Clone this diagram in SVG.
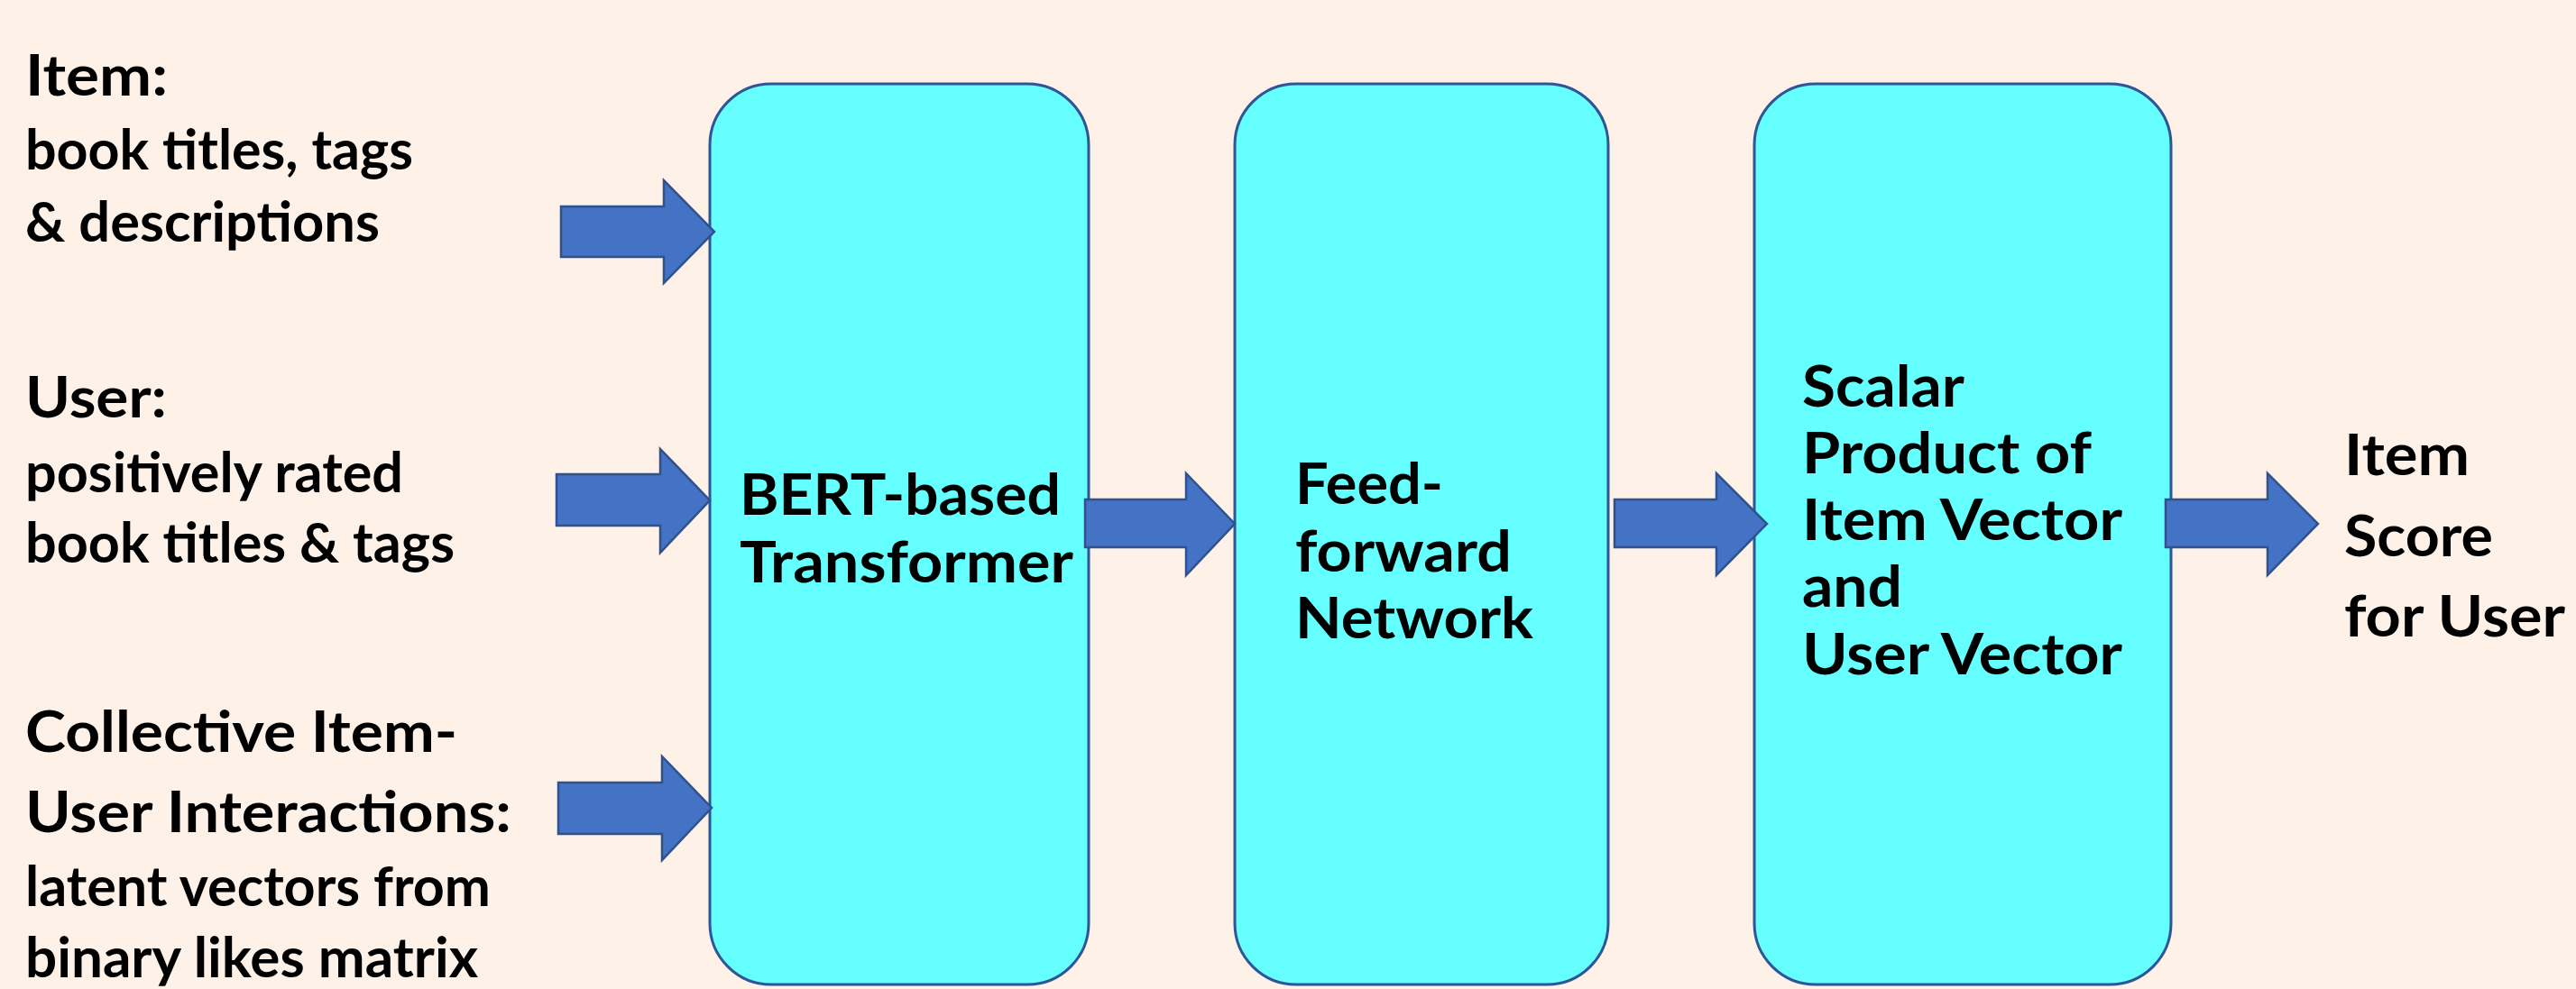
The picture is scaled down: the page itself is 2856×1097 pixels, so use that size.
<svg xmlns="http://www.w3.org/2000/svg" width="2856" height="1097" viewBox="0 0 2856 1097">
<style>
.bg{fill:#FDF1E8}
.box{fill:#66FFFF;stroke:#2F5597;stroke-width:3}
.arr{fill:#4472C4;stroke:#2F528F;stroke-width:2.5;stroke-linejoin:miter}
text{font-family:Lato,"Open Sans","Liberation Sans",sans-serif;font-weight:700;fill:#000}
.h{font-size:63px}
.b{font-size:61px}
.n{font-size:64px}
</style>
<rect class="bg" x="0" y="0" width="2856" height="1097"/>
<g id="inputs">
<g id="item-input">
<text class="h" x="28" y="106" textLength="158" lengthAdjust="spacingAndGlyphs">Item:</text>
<text class="b" x="28" y="188" textLength="430" lengthAdjust="spacingAndGlyphs">book titles, tags</text>
<text class="b" x="28" y="268" textLength="393" lengthAdjust="spacingAndGlyphs">&amp; descriptions</text>
</g>
<g id="user-input">
<text class="h" x="28" y="463" textLength="157" lengthAdjust="spacingAndGlyphs">User:</text>
<text class="b" x="28" y="546" textLength="419" lengthAdjust="spacingAndGlyphs">positively rated</text>
<text class="b" x="28" y="624" textLength="476" lengthAdjust="spacingAndGlyphs">book titles &amp; tags</text>
</g>
<g id="collective-input">
<text class="h" x="28" y="834" textLength="479" lengthAdjust="spacingAndGlyphs">Collective Item-</text>
<text class="h" x="28" y="923" textLength="539" lengthAdjust="spacingAndGlyphs">User Interactions:</text>
<text class="b" x="28" y="1005" textLength="516" lengthAdjust="spacingAndGlyphs">latent vectors from</text>
<text class="b" x="28" y="1084" textLength="502" lengthAdjust="spacingAndGlyphs">binary likes matrix</text>
</g>
</g>
<g id="bert">
<rect class="box" x="787" y="93" width="420" height="999" rx="68" ry="68"/>
<text class="n" x="820" y="571" textLength="356" lengthAdjust="spacingAndGlyphs">BERT-based</text>
<text class="n" x="820" y="646" textLength="370" lengthAdjust="spacingAndGlyphs">Transformer</text>
</g>
<g id="ffn">
<rect class="box" x="1369" y="93" width="414" height="999" rx="68" ry="68"/>
<text class="n" x="1436" y="559" textLength="164" lengthAdjust="spacingAndGlyphs">Feed-</text>
<text class="n" x="1436" y="634" textLength="240" lengthAdjust="spacingAndGlyphs">forward</text>
<text class="n" x="1436" y="708" textLength="264" lengthAdjust="spacingAndGlyphs">Network</text>
</g>
<g id="scalar">
<rect class="box" x="1945" y="93" width="462" height="999" rx="68" ry="68"/>
<text class="n" x="1998" y="451" textLength="180" lengthAdjust="spacingAndGlyphs">Scalar</text>
<text class="n" x="1998" y="525" textLength="321" lengthAdjust="spacingAndGlyphs">Product of</text>
<text class="n" x="1998" y="599" textLength="355" lengthAdjust="spacingAndGlyphs">Item Vector</text>
<text class="n" x="1998" y="673" textLength="111" lengthAdjust="spacingAndGlyphs">and</text>
<text class="n" x="1998" y="748" textLength="355" lengthAdjust="spacingAndGlyphs">User Vector</text>
</g>
<g id="output">
<text class="n" x="2599" y="527" textLength="139" lengthAdjust="spacingAndGlyphs">Item</text>
<text class="n" x="2599" y="617" textLength="165" lengthAdjust="spacingAndGlyphs">Score</text>
<text class="n" x="2599" y="706" textLength="245" lengthAdjust="spacingAndGlyphs">for User</text>
</g>
<g id="connectors">
<polygon class="arr" points="622,229 736,229 736,200 792,257 736,314 736,285 622,285"/>
<polygon class="arr" points="617,526 732,526 732,498 787,555 732,613 732,583 617,583"/>
<polygon class="arr" points="619,868 734,868 734,839 789,896 734,954 734,925 619,925"/>
<polygon class="arr" points="1203,554 1315,554 1315,525 1369,581 1315,638 1315,607 1203,607"/>
<polygon class="arr" points="1790,554 1903,554 1903,525 1959,581 1903,638 1903,607 1790,607"/>
<polygon class="arr" points="2401,554 2514,554 2514,525 2570,581 2514,638 2514,607 2401,607"/>
</g>
</svg>
